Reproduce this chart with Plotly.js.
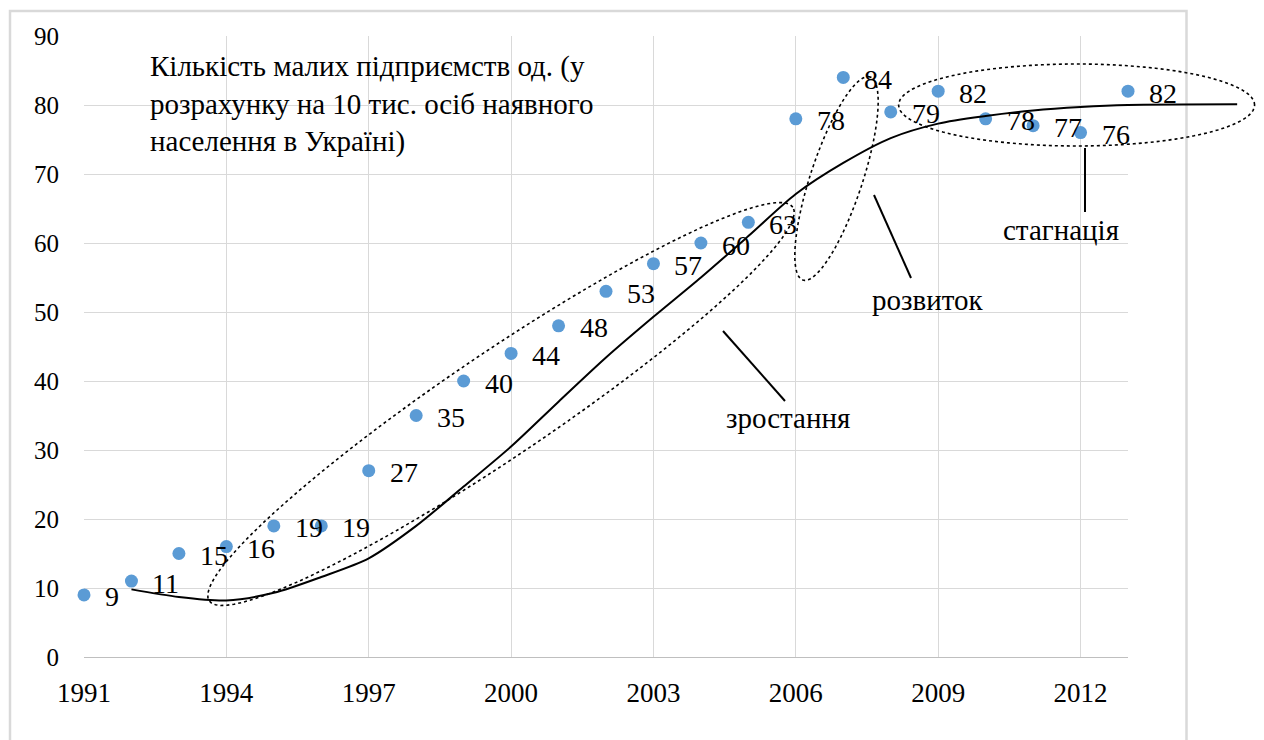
<!DOCTYPE html>
<html>
<head>
<meta charset="utf-8">
<script src="https://cdn.plot.ly/plotly-3.0.1.min.js"></script>
<style>html,body{margin:0;padding:0;background:#fff;}#chart{width:1264px;height:740px;}</style>
</head>
<body>
<div id="chart"></div>
<script>
// ---- data ----
const years = [1991,1992,1993,1994,1995,1996,1997,1998,1999,2000,2001,2002,2003,2004,2005,2006,2007,2008,2009,2010,2011,2012,2013];
const values = [9,11,15,16,19,19,27,35,40,44,48,53,57,60,63,78,84,79,82,78,77,76,82];
const trendYears = [1992,1993,1994,1995,1996,1997,1998,1999,2000,2001,2002,2003,2004,2005,2006,2007,2008,2009,2010,2011,2012,2013,2015.3];
const trendValues = [9.8,8.7,8.2,9.3,11.6,14.3,19.0,24.7,30.5,37.0,43.4,49.3,55.0,61.0,67.1,71.6,75.2,77.3,78.4,79.2,79.7,80.0,80.1];
const xTicks = [1991,1994,1997,2000,2003,2006,2009,2012];
const yTicks = [0,10,20,30,40,50,60,70,80,90];
const titleText = 'Кількість малих підприємств од. (у<br>розрахунку на 10 тис. осіб наявного<br>населення в Україні)';
const phaseLabels = ['зростання','розвиток','стагнація'];

// ---- geometry ----
const ML = 84, MT = 36, MB = 83, W = 1264, H = 740;
const plotH = H - MT - MB;          // 621
const mainW = 1044;                  // main plot width
const fullW = W - ML;                // wide overlay width
const xMin = 1991, xMax = 2013, yMax = 90;
const pxPerYear = mainW / (xMax - xMin);
const pxPerVal = plotH / yMax;
const toX = px => xMin + (px - ML) / pxPerYear;
const toY = py => (MT + plotH - py) / pxPerVal;

function ellipsePath(cx, cy, a, b, angDeg) {
  const th = angDeg * Math.PI / 180;
  let d = '';
  for (let i = 0; i <= 96; i++) {
    const t = 2 * Math.PI * i / 96;
    const px = cx + a * Math.cos(t) * Math.cos(th) - b * Math.sin(t) * Math.sin(th);
    const py = cy - (a * Math.cos(t) * Math.sin(th) + b * Math.sin(t) * Math.cos(th));
    d += (i === 0 ? 'M' : 'L') + toX(px).toFixed(4) + ',' + toY(py).toFixed(4);
  }
  return d + 'Z';
}

const serif = '"Liberation Serif", "Times New Roman", serif';

const traces = [
  {
    x: years, y: values, type: 'scatter', mode: 'markers',
    marker: {color: '#5b9bd5', size: 13},
    xaxis: 'x', yaxis: 'y', hoverinfo: 'skip', cliponaxis: false
  },
  {
    x: trendYears, y: trendValues, type: 'scatter', mode: 'lines',
    line: {color: '#000', width: 2, shape: 'spline', smoothing: 0.8},
    xaxis: 'x2', yaxis: 'y2', hoverinfo: 'skip'
  }
];

const annotations = years.map((yr, i) => ({
  x: yr, y: values[i], xref: 'x', yref: 'y', text: String(values[i]),
  showarrow: false, xanchor: 'left', yanchor: 'middle', xshift: 19, yshift: -2,
  font: {family: serif, size: 28, color: '#000'}
}));

annotations.push({
  x: toX(148), y: toY(48), xref: 'x2', yref: 'y2', text: titleText,
  showarrow: false, xanchor: 'left', yanchor: 'top', align: 'left',
  font: {family: serif, size: 29, color: '#000'}
});
const labelPos = [[788, 418], [927, 300], [1061, 230]];
phaseLabels.forEach((t, i) => annotations.push({
  x: toX(labelPos[i][0]), y: toY(labelPos[i][1]), xref: 'x2', yref: 'y2', text: t,
  showarrow: false, xanchor: 'center', yanchor: 'middle',
  font: {family: serif, size: 29, color: '#000'}
}));

const dotted = {color: '#000', width: 1.6, dash: 'dot'};
const shapes = [
  {type: 'path', xref: 'x2', yref: 'y2', path: ellipsePath(501, 404, 352, 52, 34), line: dotted},
  {type: 'path', xref: 'x2', yref: 'y2', path: ellipsePath(836.5, 178.5, 107, 26, 71.7), line: dotted},
  {type: 'path', xref: 'x2', yref: 'y2', path: ellipsePath(1076.6, 105, 178, 41, 0), line: dotted},
  {type: 'line', xref: 'x2', yref: 'y2', x0: toX(723), y0: toY(331), x1: toX(785), y1: toY(401), line: {color: '#000', width: 2}},
  {type: 'line', xref: 'x2', yref: 'y2', x0: toX(874), y0: toY(195), x1: toX(911), y1: toY(278), line: {color: '#000', width: 2}},
  {type: 'line', xref: 'x2', yref: 'y2', x0: toX(1085), y0: toY(148), x1: toX(1085), y1: toY(212), line: {color: '#000', width: 2}},
  // outer frame
  {type: 'rect', xref: 'paper', yref: 'paper',
   x0: (10 - ML) / fullW, x1: (1186.5 - ML) / fullW,
   y0: (MT + plotH - 800) / plotH, y1: (MT + plotH - 11) / plotH,
   line: {color: '#d9d9d9', width: 2.5}, layer: 'below'}
];

const layout = {
  width: W, height: H,
  margin: {l: ML, r: 0, t: MT, b: MB, pad: 0},
  paper_bgcolor: '#fff', plot_bgcolor: 'rgba(0,0,0,0)',
  showlegend: false,
  xaxis: {
    domain: [0, mainW / fullW], range: [xMin, xMax], anchor: 'y',
    tickvals: xTicks, ticktext: xTicks.map(String),
    showgrid: true, gridcolor: '#d9d9d9', gridwidth: 1,
    showline: true, linecolor: '#bfbfbf', linewidth: 1,
    zeroline: false, ticks: '', ticklabelstandoff: 12,
    tickfont: {family: serif, size: 27, color: '#000'}
  },
  yaxis: {
    domain: [0, 1], range: [0, yMax], anchor: 'x',
    tickvals: yTicks, ticktext: yTicks.map(String),
    showgrid: true, gridcolor: '#d9d9d9', gridwidth: 1,
    showline: false, zeroline: false, ticks: '', ticklabelstandoff: 24,
    tickfont: {family: serif, size: 25, color: '#000'}
  },
  xaxis2: {domain: [0, 1], range: [xMin, toX(W)], anchor: 'y2', visible: false, showgrid: false, zeroline: false},
  yaxis2: {domain: [0, 1], range: [0, yMax], anchor: 'x2', visible: false, showgrid: false, zeroline: false},
  annotations: annotations,
  shapes: shapes
};

Plotly.newPlot('chart', traces, layout, {displayModeBar: false, staticPlot: true});
</script>
</body>
</html>
